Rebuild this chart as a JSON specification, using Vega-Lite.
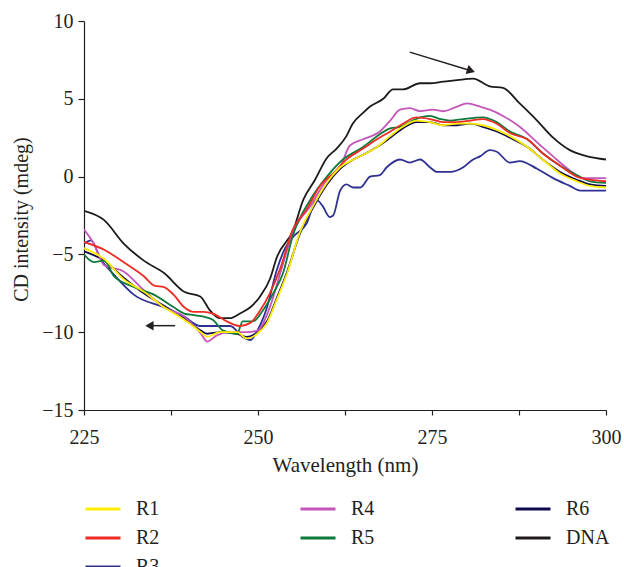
{
  "$schema": "https://vega.github.io/schema/vega-lite/v6.json",
  "width": 522,
  "height": 389,
  "autosize": {"type": "none"},
  "padding": {"left": 84, "top": 21, "right": 18, "bottom": 157},
  "background": "white",
  "config": {
    "view": {"stroke": null},
    "font": "Liberation Serif",
    "axis": {"labelFont": "Liberation Serif", "titleFont": "Liberation Serif", "labelColor": "#231F20", "titleColor": "#231F20", "titleFontWeight": "normal", "domainColor": "#231F20", "tickColor": "#231F20", "grid": false, "labelFontSize": 20, "titleFontSize": 21},
    "legend": {"labelFont": "Liberation Serif", "labelFontSize": 20, "labelColor": "#231F20"}
  },
  "datasets": {
    "arrows": [
      {"a": "up", "x1": 271.8, "y1": 8.0, "x2": 280.6, "y2": 6.8},
      {"a": "left", "x1": 238.1, "y1": -9.58, "x2": 234.4, "y2": -9.58}
    ],
    "curves": [
      {"s":"DNA","w":225.0,"v":-2.2},{"s":"DNA","w":227.9,"v":-2.8},{"s":"DNA","w":230.7,"v":-4.3},{"s":"DNA","w":233.6,"v":-5.4},{"s":"DNA","w":236.5,"v":-6.2},{"s":"DNA","w":239.4,"v":-7.4},{"s":"DNA","w":241.7,"v":-7.7},{"s":"DNA","w":243.1,"v":-8.6},{"s":"DNA","w":244.5,"v":-9.1},{"s":"DNA","w":246.0,"v":-9.1},{"s":"DNA","w":247.4,"v":-8.8},{"s":"DNA","w":248.9,"v":-8.4},{"s":"DNA","w":250.3,"v":-7.7},{"s":"DNA","w":251.7,"v":-6.6},{"s":"DNA","w":252.7,"v":-5.2},{"s":"DNA","w":255.1,"v":-3.4},{"s":"DNA","w":256.5,"v":-1.5},{"s":"DNA","w":258.2,"v":-0.2},{"s":"DNA","w":259.9,"v":1.2},{"s":"DNA","w":261.3,"v":1.8},{"s":"DNA","w":262.7,"v":2.6},{"s":"DNA","w":263.6,"v":3.4},{"s":"DNA","w":265.1,"v":4.1},{"s":"DNA","w":266.1,"v":4.5},{"s":"DNA","w":268.0,"v":5.0},{"s":"DNA","w":269.4,"v":5.6},{"s":"DNA","w":270.8,"v":5.6},{"s":"DNA","w":273.3,"v":6.0},{"s":"DNA","w":274.7,"v":6.0},{"s":"DNA","w":276.6,"v":6.1},{"s":"DNA","w":278.6,"v":6.2},{"s":"DNA","w":280.9,"v":6.3},{"s":"DNA","w":283.3,"v":5.8},{"s":"DNA","w":285.2,"v":5.7},{"s":"DNA","w":287.6,"v":4.7},{"s":"DNA","w":290.1,"v":3.6},{"s":"DNA","w":292.4,"v":2.5},{"s":"DNA","w":294.8,"v":1.7},{"s":"DNA","w":297.3,"v":1.3},{"s":"DNA","w":300.0,"v":1.1},
      {"s":"R6","w":225.0,"v":-4.8},{"s":"R6","w":227.9,"v":-5.4},{"s":"R6","w":230.7,"v":-6.5},{"s":"R6","w":233.6,"v":-7.5},{"s":"R6","w":236.5,"v":-8.3},{"s":"R6","w":239.4,"v":-9.1},{"s":"R6","w":241.8,"v":-9.9},{"s":"R6","w":242.7,"v":-10.1},{"s":"R6","w":244.5,"v":-10.0},{"s":"R6","w":247.0,"v":-10.1},{"s":"R6","w":248.4,"v":-10.3},{"s":"R6","w":249.9,"v":-10.0},{"s":"R6","w":251.3,"v":-9.3},{"s":"R6","w":252.7,"v":-7.8},{"s":"R6","w":254.2,"v":-6.1},{"s":"R6","w":256.0,"v":-3.7},{"s":"R6","w":257.9,"v":-2.0},{"s":"R6","w":259.9,"v":-0.5},{"s":"R6","w":261.8,"v":0.5},{"s":"R6","w":263.7,"v":1.1},{"s":"R6","w":265.1,"v":1.4},{"s":"R6","w":267.1,"v":1.9},{"s":"R6","w":269.0,"v":2.5},{"s":"R6","w":270.8,"v":3.1},{"s":"R6","w":272.8,"v":3.5},{"s":"R6","w":274.7,"v":3.5},{"s":"R6","w":276.6,"v":3.3},{"s":"R6","w":278.6,"v":3.3},{"s":"R6","w":280.5,"v":3.4},{"s":"R6","w":282.3,"v":3.2},{"s":"R6","w":284.3,"v":2.9},{"s":"R6","w":286.2,"v":2.5},{"s":"R6","w":288.7,"v":1.9},{"s":"R6","w":290.9,"v":1.1},{"s":"R6","w":293.4,"v":0.3},{"s":"R6","w":295.8,"v":-0.2},{"s":"R6","w":297.7,"v":-0.5},{"s":"R6","w":300.0,"v":-0.6},
      {"s":"R3","w":225.0,"v":-4.3},{"s":"R3","w":226.0,"v":-4.1},{"s":"R3","w":227.4,"v":-5.3},{"s":"R3","w":229.3,"v":-6.3},{"s":"R3","w":232.2,"v":-7.6},{"s":"R3","w":236.5,"v":-8.4},{"s":"R3","w":239.4,"v":-9.0},{"s":"R3","w":241.7,"v":-9.6},{"s":"R3","w":243.5,"v":-9.6},{"s":"R3","w":246.0,"v":-9.6},{"s":"R3","w":247.8,"v":-10.3},{"s":"R3","w":248.9,"v":-10.5},{"s":"R3","w":249.9,"v":-9.9},{"s":"R3","w":251.3,"v":-8.4},{"s":"R3","w":252.7,"v":-6.0},{"s":"R3","w":253.9,"v":-4.6},{"s":"R3","w":255.0,"v":-3.9},{"s":"R3","w":257.0,"v":-3.0},{"s":"R3","w":258.4,"v":-1.5},{"s":"R3","w":259.3,"v":-1.9},{"s":"R3","w":260.3,"v":-2.6},{"s":"R3","w":260.8,"v":-2.5},{"s":"R3","w":261.8,"v":-0.9},{"s":"R3","w":262.7,"v":-0.5},{"s":"R3","w":263.7,"v":-0.7},{"s":"R3","w":264.7,"v":-0.7},{"s":"R3","w":266.1,"v":0.0},{"s":"R3","w":267.5,"v":0.1},{"s":"R3","w":268.5,"v":0.6},{"s":"R3","w":270.4,"v":1.1},{"s":"R3","w":271.8,"v":0.9},{"s":"R3","w":273.3,"v":1.1},{"s":"R3","w":274.7,"v":0.6},{"s":"R3","w":275.7,"v":0.3},{"s":"R3","w":277.6,"v":0.3},{"s":"R3","w":279.5,"v":0.6},{"s":"R3","w":280.9,"v":1.1},{"s":"R3","w":281.9,"v":1.3},{"s":"R3","w":283.3,"v":1.7},{"s":"R3","w":284.3,"v":1.6},{"s":"R3","w":286.2,"v":0.9},{"s":"R3","w":287.6,"v":1.0},{"s":"R3","w":290.1,"v":0.5},{"s":"R3","w":292.4,"v":-0.1},{"s":"R3","w":294.8,"v":-0.6},{"s":"R3","w":296.3,"v":-0.9},{"s":"R3","w":298.1,"v":-0.9},{"s":"R3","w":300.0,"v":-0.9},
      {"s":"R4","w":225.0,"v":-3.4},{"s":"R4","w":226.4,"v":-4.3},{"s":"R4","w":227.9,"v":-5.7},{"s":"R4","w":230.7,"v":-6.1},{"s":"R4","w":233.6,"v":-7.3},{"s":"R4","w":236.5,"v":-8.4},{"s":"R4","w":239.4,"v":-9.0},{"s":"R4","w":241.8,"v":-10.1},{"s":"R4","w":242.7,"v":-10.6},{"s":"R4","w":244.1,"v":-10.2},{"s":"R4","w":246.0,"v":-10.0},{"s":"R4","w":248.4,"v":-10.0},{"s":"R4","w":249.9,"v":-9.9},{"s":"R4","w":251.7,"v":-8.4},{"s":"R4","w":253.2,"v":-6.2},{"s":"R4","w":255.0,"v":-3.6},{"s":"R4","w":257.5,"v":-1.9},{"s":"R4","w":259.9,"v":-0.2},{"s":"R4","w":261.8,"v":0.6},{"s":"R4","w":263.2,"v":2.0},{"s":"R4","w":265.1,"v":2.4},{"s":"R4","w":267.5,"v":2.9},{"s":"R4","w":269.0,"v":3.6},{"s":"R4","w":270.4,"v":4.3},{"s":"R4","w":271.8,"v":4.4},{"s":"R4","w":273.3,"v":4.2},{"s":"R4","w":275.1,"v":4.3},{"s":"R4","w":276.6,"v":4.2},{"s":"R4","w":278.6,"v":4.5},{"s":"R4","w":280.0,"v":4.7},{"s":"R4","w":281.9,"v":4.5},{"s":"R4","w":283.3,"v":4.3},{"s":"R4","w":285.2,"v":3.9},{"s":"R4","w":287.6,"v":3.2},{"s":"R4","w":290.1,"v":2.2},{"s":"R4","w":292.4,"v":1.3},{"s":"R4","w":294.8,"v":0.4},{"s":"R4","w":296.7,"v":-0.1},{"s":"R4","w":300.0,"v":-0.1},
      {"s":"R5","w":225.0,"v":-5.0},{"s":"R5","w":226.4,"v":-5.5},{"s":"R5","w":227.9,"v":-5.4},{"s":"R5","w":229.3,"v":-6.4},{"s":"R5","w":232.2,"v":-7.1},{"s":"R5","w":235.1,"v":-7.6},{"s":"R5","w":237.9,"v":-8.4},{"s":"R5","w":239.4,"v":-8.8},{"s":"R5","w":240.8,"v":-8.9},{"s":"R5","w":242.2,"v":-9.0},{"s":"R5","w":243.5,"v":-9.2},{"s":"R5","w":245.0,"v":-9.9},{"s":"R5","w":247.0,"v":-10.1},{"s":"R5","w":247.8,"v":-9.3},{"s":"R5","w":249.3,"v":-9.3},{"s":"R5","w":250.7,"v":-8.6},{"s":"R5","w":252.2,"v":-7.5},{"s":"R5","w":253.6,"v":-6.2},{"s":"R5","w":255.0,"v":-3.8},{"s":"R5","w":257.5,"v":-1.5},{"s":"R5","w":259.9,"v":0.0},{"s":"R5","w":262.2,"v":1.1},{"s":"R5","w":265.1,"v":1.9},{"s":"R5","w":267.1,"v":2.6},{"s":"R5","w":269.0,"v":3.1},{"s":"R5","w":270.4,"v":3.2},{"s":"R5","w":271.8,"v":3.5},{"s":"R5","w":273.3,"v":3.8},{"s":"R5","w":274.7,"v":3.9},{"s":"R5","w":276.2,"v":3.7},{"s":"R5","w":277.6,"v":3.6},{"s":"R5","w":279.5,"v":3.7},{"s":"R5","w":282.3,"v":3.8},{"s":"R5","w":284.3,"v":3.5},{"s":"R5","w":286.2,"v":2.9},{"s":"R5","w":288.7,"v":2.4},{"s":"R5","w":290.9,"v":1.5},{"s":"R5","w":293.4,"v":0.7},{"s":"R5","w":295.8,"v":0.1},{"s":"R5","w":297.7,"v":-0.3},{"s":"R5","w":300.0,"v":-0.4},
      {"s":"R2","w":225.0,"v":-4.2},{"s":"R2","w":227.9,"v":-4.7},{"s":"R2","w":230.7,"v":-5.5},{"s":"R2","w":233.6,"v":-6.4},{"s":"R2","w":235.1,"v":-7.0},{"s":"R2","w":236.5,"v":-7.1},{"s":"R2","w":237.9,"v":-7.6},{"s":"R2","w":239.4,"v":-8.4},{"s":"R2","w":240.8,"v":-8.7},{"s":"R2","w":242.2,"v":-8.7},{"s":"R2","w":243.5,"v":-8.8},{"s":"R2","w":245.5,"v":-9.3},{"s":"R2","w":247.4,"v":-9.6},{"s":"R2","w":248.9,"v":-9.4},{"s":"R2","w":250.3,"v":-8.6},{"s":"R2","w":251.7,"v":-7.5},{"s":"R2","w":253.2,"v":-5.9},{"s":"R2","w":255.0,"v":-3.4},{"s":"R2","w":257.0,"v":-2.1},{"s":"R2","w":258.9,"v":-0.6},{"s":"R2","w":260.8,"v":0.2},{"s":"R2","w":262.7,"v":1.1},{"s":"R2","w":265.1,"v":1.8},{"s":"R2","w":267.1,"v":2.4},{"s":"R2","w":269.0,"v":2.9},{"s":"R2","w":270.8,"v":3.4},{"s":"R2","w":272.8,"v":3.8},{"s":"R2","w":274.7,"v":3.7},{"s":"R2","w":276.6,"v":3.5},{"s":"R2","w":278.6,"v":3.5},{"s":"R2","w":280.5,"v":3.6},{"s":"R2","w":282.3,"v":3.7},{"s":"R2","w":284.3,"v":3.4},{"s":"R2","w":286.2,"v":2.8},{"s":"R2","w":288.7,"v":2.4},{"s":"R2","w":290.9,"v":1.5},{"s":"R2","w":293.4,"v":0.7},{"s":"R2","w":295.8,"v":0.0},{"s":"R2","w":297.7,"v":-0.2},{"s":"R2","w":300.0,"v":-0.3},
      {"s":"R1","w":225.0,"v":-4.6},{"s":"R1","w":227.9,"v":-5.3},{"s":"R1","w":230.7,"v":-6.6},{"s":"R1","w":233.6,"v":-7.4},{"s":"R1","w":236.5,"v":-8.4},{"s":"R1","w":239.4,"v":-9.2},{"s":"R1","w":241.8,"v":-10.0},{"s":"R1","w":242.7,"v":-10.3},{"s":"R1","w":244.5,"v":-10.0},{"s":"R1","w":247.0,"v":-10.0},{"s":"R1","w":248.4,"v":-10.4},{"s":"R1","w":249.9,"v":-10.1},{"s":"R1","w":251.3,"v":-9.4},{"s":"R1","w":252.7,"v":-7.9},{"s":"R1","w":254.2,"v":-6.2},{"s":"R1","w":256.0,"v":-3.6},{"s":"R1","w":257.9,"v":-1.9},{"s":"R1","w":259.9,"v":-0.4},{"s":"R1","w":261.8,"v":0.6},{"s":"R1","w":263.7,"v":1.1},{"s":"R1","w":265.1,"v":1.4},{"s":"R1","w":267.1,"v":1.9},{"s":"R1","w":269.0,"v":2.6},{"s":"R1","w":270.8,"v":3.2},{"s":"R1","w":272.8,"v":3.6},{"s":"R1","w":274.7,"v":3.5},{"s":"R1","w":276.6,"v":3.3},{"s":"R1","w":278.6,"v":3.4},{"s":"R1","w":280.5,"v":3.4},{"s":"R1","w":282.3,"v":3.3},{"s":"R1","w":284.3,"v":3.0},{"s":"R1","w":286.2,"v":2.6},{"s":"R1","w":288.7,"v":1.9},{"s":"R1","w":290.9,"v":1.1},{"s":"R1","w":293.4,"v":0.2},{"s":"R1","w":295.8,"v":-0.3},{"s":"R1","w":297.7,"v":-0.6},{"s":"R1","w":300.0,"v":-0.7}
    ]
  },
  "layer": [
    {
      "data": {"name": "curves"},
      "mark": {"type": "line", "strokeWidth": 1.8, "interpolate": "monotone", "clip": true},
      "encoding": {
        "x": {"field": "w", "type": "quantitative", "scale": {"domain": [225, 300], "nice": false, "zero": false},
          "axis": {"title": "Wavelength (nm)", "values": [225, 237.5, 250, 262.5, 275, 287.5, 300], "labelExpr": "datum.value % 25 === 0 ? datum.label : ''", "tickSize": 5, "labelPadding": 12, "titleY": 61, "titleBaseline": "alphabetic", "labelFlush": false, "domainWidth": 1.2, "tickWidth": 1.2}},
        "y": {"field": "v", "type": "quantitative", "scale": {"domain": [-15, 10], "nice": false, "zero": false},
          "axis": {"title": "CD intensity (mdeg)", "titleFontSize": 20, "values": [-15, -12.5, -10, -7.5, -5, -2.5, 0, 2.5, 5, 7.5, 10], "labelExpr": "datum.value % 5 === 0 ? datum.label : ''", "tickSize": 6, "labelPadding": 5, "titleX": -57, "titleY": 198, "titleBaseline": "alphabetic", "titleAngle": 270, "titleAlign": "center", "domainWidth": 1.2, "tickWidth": 1.2}},
        "color": {"field": "s", "type": "nominal",
          "scale": {"domain": ["R1", "R2", "R3", "R4", "R5", "_", "R6", "DNA"], "range": ["#FFED00", "#EE2B24", "#2E3092", "#C455BA", "#0D7A3B", "transparent", "#0E0B4A", "#1E1A1B"]},
          "legend": {"title": null, "orient": "none", "legendX": 0, "legendY": 469, "columns": 3, "symbolType": "stroke", "symbolSize": 1225, "symbolStrokeWidth": 3, "labelOffset": 14, "columnPadding": 134, "rowPadding": -9, "labelExpr": "datum.label === '_' ? '' : datum.label"}}
      }
    },
    {
      "data": {"name": "arrows"},
      "mark": {"type": "rule", "color": "#231F20", "strokeWidth": 1.5},
      "encoding": {
        "x": {"field": "x1", "type": "quantitative"},
        "y": {"field": "y1", "type": "quantitative"},
        "x2": {"field": "x2"},
        "y2": {"field": "y2"}
      }
    },
    {
      "data": {"name": "arrows"},
      "transform": [{"filter": "datum.a === 'up'"}],
      "mark": {"type": "point", "shape": "triangle-right", "filled": true, "color": "#231F20", "size": 90, "angle": 18, "opacity": 1},
      "encoding": {
        "x": {"field": "x2", "type": "quantitative"},
        "y": {"field": "y2", "type": "quantitative"}
      }
    },
    {
      "data": {"name": "arrows"},
      "transform": [{"filter": "datum.a === 'left'"}],
      "mark": {"type": "point", "shape": "triangle-left", "filled": true, "color": "#231F20", "size": 90, "opacity": 1},
      "encoding": {
        "x": {"field": "x2", "type": "quantitative"},
        "y": {"field": "y2", "type": "quantitative"}
      }
    }
  ]
}
